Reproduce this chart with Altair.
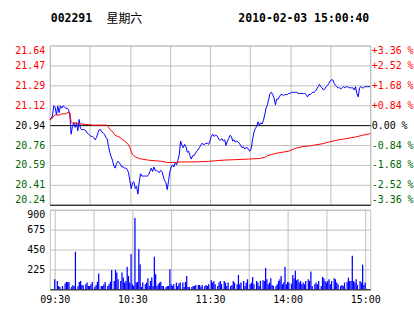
import altair as alt
import pandas as pd

# ---------------- data ----------------
PREV_CLOSE = 20.94
PCT_TICKS = [-3.36, -2.52, -1.68, -0.84, 0.0, 0.84, 1.68, 2.52, 3.36]
VOL_TICKS = [225, 450, 675, 900]
VOL_MAX = 900
GRID_MIN = [0, 30, 60, 90, 120, 150, 180, 210, 240]
TIME_TICKS = [0, 60, 120, 180, 240]
TIME_LABELS = ["09:30", "10:30", "11:30", "14:00", "15:00"]
HEADER_CODE = "002291"
HEADER_DAY = "星期六"
HEADER_TIME = "2010-02-03 15:00:40"

# last price, one value per trading minute (0 = 09:30 ... 240 = 15:00)
PRICE = [
    20.99, 21.00, 21.02, 21.11, 21.10, 21.03, 21.11, 21.05, 21.11, 21.09,
    21.11, 21.10, 21.09, 21.09, 21.08, 21.03, 20.86, 20.93, 20.96, 20.92,
    20.96, 20.89, 20.99, 20.91, 20.90, 20.90, 20.90, 20.89, 20.87, 20.86,
    20.85, 20.84, 20.84, 20.83, 20.81, 20.83, 20.87, 20.90, 20.90, 20.88,
    20.87, 20.86, 20.83, 20.82, 20.75, 20.70, 20.66, 20.63, 20.58, 20.56,
    20.60, 20.62, 20.61, 20.59, 20.57, 20.57, 20.56, 20.56, 20.55, 20.52,
    20.45, 20.38, 20.43, 20.44, 20.38, 20.40, 20.33, 20.44, 20.51, 20.49,
    20.49, 20.49, 20.49, 20.49, 20.50, 20.53, 20.56, 20.53, 20.57, 20.54,
    20.54, 20.53, 20.52, 20.54, 20.53, 20.49, 20.45, 20.43, 20.37, 20.45,
    20.53, 20.57, 20.59, 20.57, 20.61, 20.59, 20.63, 20.68, 20.80, 20.76,
    20.74, 20.77, 20.75, 20.70, 20.71, 20.67, 20.64, 20.67, 20.67, 20.69,
    20.71, 20.72, 20.74, 20.76, 20.78, 20.77, 20.77, 20.78, 20.78, 20.77,
    20.80, 20.84, 20.86, 20.84, 20.85, 20.85, 20.83, 20.81, 20.81, 20.82,
    20.80, 20.81, 20.76, 20.80, 20.82, 20.85, 20.84, 20.80, 20.81, 20.79,
    20.80, 20.79, 20.78, 20.76, 20.74, 20.75, 20.73, 20.74, 20.74, 20.72,
    20.71, 20.74, 20.82, 20.88, 20.91, 20.93, 20.97, 20.94, 20.96, 20.95,
    20.98, 21.03, 21.09, 21.12, 21.17, 21.22, 21.23, 21.21, 21.18, 21.12,
    21.17, 21.17, 21.19, 21.21, 21.21, 21.20, 21.21, 21.21, 21.21, 21.22,
    21.22, 21.23, 21.23, 21.23, 21.23, 21.23, 21.22, 21.22, 21.22, 21.22,
    21.22, 21.22, 21.21, 21.19, 21.21, 21.21, 21.22, 21.23, 21.23, 21.24,
    21.26, 21.28, 21.30, 21.28, 21.27, 21.25, 21.26, 21.28, 21.29, 21.31,
    21.33, 21.34, 21.34, 21.31, 21.29, 21.28, 21.27, 21.27, 21.26, 21.27,
    21.28, 21.27, 21.28, 21.28, 21.27, 21.27, 21.27, 21.27, 21.25, 21.28,
    21.22, 21.19, 21.27, 21.28, 21.27, 21.27, 21.28, 21.28, 21.28, 21.28,
    21.28,
]

# average price line
AVG_MIN = [0, 2, 3, 4, 7, 9, 12, 13, 15, 16, 17, 19, 22, 24, 27, 29, 32, 43,
           44, 46, 47, 48, 49, 51, 53, 54, 56, 57, 58, 59, 60, 61, 62, 64, 67,
           69, 74, 79, 84, 88, 94, 99, 109, 119, 124, 129, 139, 149, 157, 161,
           163, 166, 169, 174, 179, 182, 184, 189, 194, 199, 204, 209, 214,
           219, 224, 229, 234, 240]
AVG = [20.99, 21.00, 21.02, 21.03, 21.03, 21.04, 21.04, 21.05, 21.05, 20.97,
       20.96, 20.96, 20.955, 20.95, 20.945, 20.945, 20.94, 20.94,
       20.92, 20.89, 20.885, 20.865, 20.85, 20.84, 20.83, 20.815, 20.80, 20.79,
       20.78, 20.765, 20.74, 20.71, 20.68, 20.66, 20.645,
       20.64, 20.63, 20.625, 20.62, 20.61, 20.61, 20.615, 20.615, 20.62, 20.625,
       20.63, 20.635, 20.64, 20.645, 20.655,
       20.67, 20.68, 20.69, 20.70, 20.71, 20.725, 20.735, 20.75, 20.755, 20.765,
       20.775, 20.79, 20.805,
       20.815, 20.825, 20.835, 20.85, 20.865]

# volume per minute
VOL_MIN = [0, 2, 3, 4, 6, 8, 9, 10, 11, 13, 14, 15, 16, 18, 19, 20, 21, 22,
           24, 25, 26, 27, 28, 29, 31, 32, 33, 34, 36, 37, 38, 39, 41, 42, 43,
           44, 46, 47, 48, 49, 51, 52, 53, 54, 55, 56, 57, 58, 59, 60, 61, 62,
           63, 64, 65, 66, 67, 68, 70, 71, 72, 73, 74, 75, 76, 77, 78, 79, 80,
           81, 82, 83, 84, 86, 87, 88, 89, 90, 91, 92, 94, 95, 96, 97, 99, 100,
           101, 102, 103, 104, 106, 107, 108, 109, 111, 112, 113, 114, 116,
           117, 118, 119, 121, 122, 123, 124, 126, 127, 128, 129, 131, 132,
           133, 134, 136, 137, 138, 139, 141, 142, 143, 144, 146, 147, 148,
           149, 151, 152, 153, 154, 156, 157, 158, 159, 161, 162, 163, 164,
           165, 166, 167, 168, 169, 171, 172, 173, 174, 175, 176, 177, 178,
           179, 180, 181, 183, 184, 185, 186, 187, 188, 189, 190, 191, 192,
           193, 194, 196, 197, 198, 199, 201, 202, 203, 204, 206, 207, 208,
           209, 210, 211, 212, 213, 214, 216, 217, 218, 219, 221, 222, 223,
           224, 226, 227, 228, 229, 230, 231, 232, 233, 234, 236, 237, 238,
           239, 240]
VOL = [114, 95, 38, 27, 38, 65, 84, 84, 84, 27, 46, 38, 425, 38, 84, 95, 49, 46,
       57, 76, 38, 38, 57, 84, 27, 49, 84, 179, 38, 38, 57, 84, 38, 57, 87,
       220, 95, 220, 190, 114, 95, 190, 133, 76, 95, 255, 152, 76, 400, 57, 38, 806,
       76, 84, 456, 285, 27, 76, 57, 76, 125, 38, 95, 133, 38, 369, 171, 38, 57,
       76, 87, 38, 38, 27, 38, 38, 228, 57, 38, 57, 76, 38, 65, 76, 76, 27,
       84, 152, 27, 27, 27, 38, 38, 49, 49, 49, 27, 49, 38,
       49, 38, 57, 103, 76, 95, 57, 38, 76, 95, 57, 95, 76,
       38, 76, 38, 49, 95, 76, 57, 163, 57, 76, 95, 38, 76,
       114, 57, 76, 140, 57, 95, 76, 38, 95, 103, 95, 240, 114,
       57, 76, 125, 49, 38, 38, 57, 95, 114, 152, 57, 76, 255,
       57, 84, 76, 65, 163, 125, 209, 103, 114, 76, 95, 57, 76,
       57, 95, 114, 95, 201, 38, 57, 76, 57, 95, 38, 140, 125,
       95, 76, 95, 114, 57, 95, 125, 114, 76, 57, 38, 49, 38,
       76, 87, 133, 95, 95, 380, 95, 76, 114, 49, 95, 76, 277,
       49, 76]

# ---------------- styling ----------------
MONO = "DejaVu Sans Mono"
RED = "#FF0000"
GREEN = "#006600"
BLUE = "#0000FF"
GRID = "#C0C0C0"
W = 322

price_ticks = [PREV_CLOSE * (1 + p / 100) for p in PCT_TICKS]

line_df = pd.DataFrame({
    "m": list(range(len(PRICE))) + AVG_MIN,
    "p": PRICE + AVG,
    "s": ["price"] * len(PRICE) + ["avg"] * len(AVG),
})
pct_df = pd.DataFrame({"pct": PCT_TICKS})
vol_df = pd.DataFrame({"m": VOL_MIN, "v": VOL})

time_expr = "''"
for t, lab in reversed(list(zip(TIME_TICKS, TIME_LABELS))):
    time_expr = f"(datum.value == {t} ? '{lab}' : {time_expr})"

x_scale = alt.Scale(domain=[GRID_MIN[0], GRID_MIN[-1]], nice=False, zero=False)

price_x_axis = alt.Axis(values=GRID_MIN, labels=False, ticks=False, title=None,
                        domain=True, domainColor="#000000", grid=True,
                        gridColor=GRID)
price_y_axis = alt.Axis(
    values=price_ticks, format=".2f", title=None, ticks=False, domain=False,
    labelPadding=5, labelFont=MONO, labelFontSize=10, labelFlush=True,
    labelColor={"condition": [
        {"test": f"datum.value > {PREV_CLOSE + 0.01}", "value": RED},
        {"test": f"datum.value > {PREV_CLOSE - 0.01}", "value": "#000000"}],
        "value": GREEN},
    grid=True,
    gridColor={"condition": {"test": f"abs(datum.value - {PREV_CLOSE}) < 0.005",
                             "value": "#000000"}, "value": GRID},
)

lines = alt.Chart(line_df).mark_line(strokeWidth=1, interpolate="linear").encode(
    x=alt.X("m:Q", scale=x_scale, axis=price_x_axis),
    y=alt.Y("p:Q", scale=alt.Scale(domain=[price_ticks[0], price_ticks[-1]],
                                   nice=False, zero=False), axis=price_y_axis),
    color=alt.Color("s:N", scale=alt.Scale(domain=["price", "avg"],
                                           range=[BLUE, RED]), legend=None),
)

hdr = pd.DataFrame({"a": [HEADER_CODE], "b": [HEADER_DAY], "c": [HEADER_TIME]})
h1 = alt.Chart(hdr).mark_text(font=MONO, fontSize=11.5, fontWeight="bold",
                              align="left", baseline="middle", color="#000000").encode(
    text="a:N", x=alt.value(1), y=alt.value(-27))
h2 = alt.Chart(hdr).mark_text(font="Noto Sans CJK SC", fontSize=12,
                              align="left", baseline="middle", color="#000000").encode(
    text="b:N", x=alt.value(57), y=alt.value(-27))
h3 = alt.Chart(hdr).mark_text(font=MONO, fontSize=11.5, fontWeight="bold",
                              align="right", baseline="middle", color="#000000").encode(
    text="c:N", x=alt.value(W - 1), y=alt.value(-27))

pct_axis = alt.Axis(
    orient="right", values=PCT_TICKS, title=None, ticks=False, domain=False,
    grid=False, labelPadding=1, labelFont=MONO, labelFontSize=10,
    labelFlush=True,
    labelExpr="(datum.value > 0.001 ? '+' : datum.value < -0.001 ? '-' : '\u00a0')"
              " + format(abs(datum.value), '.2f') + '\u00a0%'",
    labelColor={"condition": [
        {"test": "datum.value > 0.001", "value": RED},
        {"test": "datum.value > -0.001", "value": "#000000"}],
        "value": GREEN},
)
pct = alt.Chart(pct_df).mark_point(opacity=0).encode(
    y=alt.Y("pct:Q", scale=alt.Scale(domain=[PCT_TICKS[0], PCT_TICKS[-1]],
                                     nice=False, zero=False), axis=pct_axis),
    x=alt.value(0),
)

price_panel = alt.layer(alt.layer(lines, h1, h2, h3), pct).resolve_scale(
    y="independent").properties(width=W, height=160)

vol_x_axis = alt.Axis(values=GRID_MIN, labelExpr=time_expr, title=None,
                      ticks=False, domain=True, domainColor="#000000",
                      grid=True, gridColor=GRID, labelPadding=5,
                      labelFont=MONO, labelFontSize=10, labelColor="#000000",
                      labelFlush=False, labelOverlap=False)
vol_y_axis = alt.Axis(values=VOL_TICKS, title=None, ticks=False, domain=False,
                      grid=True, gridColor=GRID, labelPadding=5,
                      labelFont=MONO, labelFontSize=10, labelColor="#000000",
                      labelFlush=True)
vol_panel = alt.Chart(vol_df).mark_bar(width=1.25, color=BLUE).encode(
    x=alt.X("m:Q", scale=x_scale, axis=vol_x_axis),
    y=alt.Y("v:Q", scale=alt.Scale(domain=[0, VOL_MAX], nice=False), axis=vol_y_axis),
).properties(width=W, height=80)

chart = alt.vconcat(price_panel, vol_panel, spacing=5, bounds="flush").properties(
    padding={"left": 14, "top": 11, "right": 0, "bottom": 0},
    background="#FFFFFF",
).configure_view(stroke=GRID, strokeWidth=1)

chart.save("out.html", embed_options={"renderer": "svg", "actions": False})
